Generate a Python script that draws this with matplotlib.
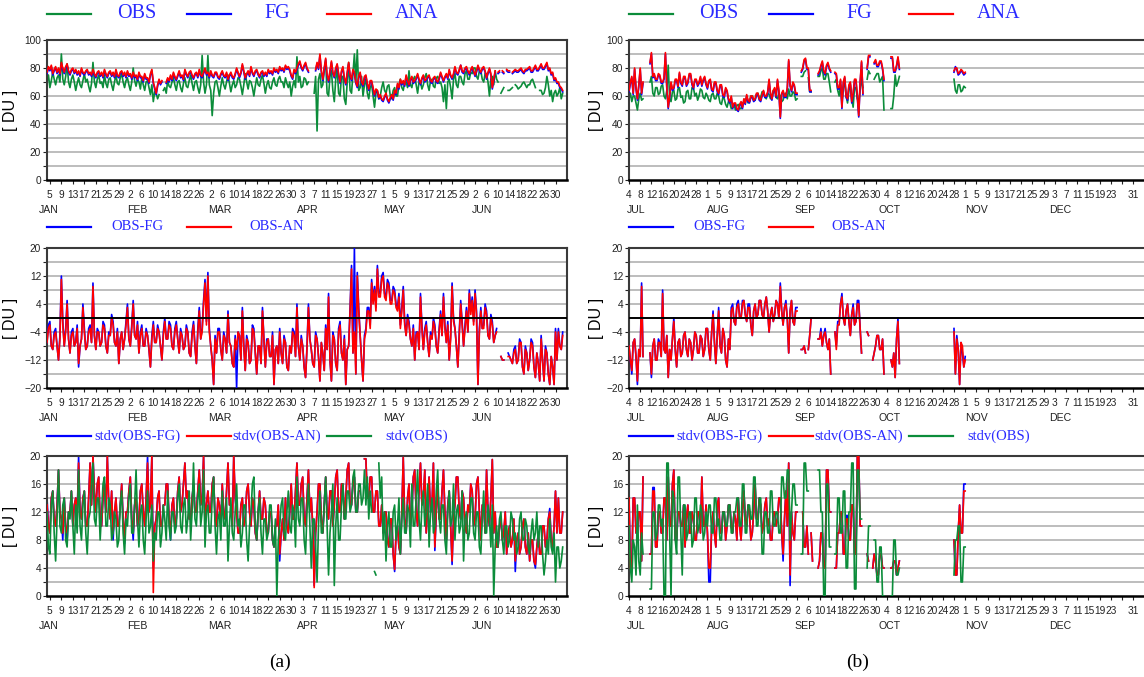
import datetime
import numpy as np
import matplotlib
matplotlib.use("Agg")
import matplotlib.pyplot as plt
from matplotlib.lines import Line2D
from matplotlib.ticker import FixedLocator
from matplotlib.transforms import blended_transform_factory

nan = np.nan

# ---------------- (a)  two values per day, Jan 4 .. Jul 2 ----------------
ana_a = [
    77, 81, 79, 82, 76, 79, 81, 77, 80, 76, 84, 80, 77, 81, 83, 78, 76, 79, 80, 77, 79, 76, 78, 75, 80, 77, 76, 78, 79, 76, 77, 75, 79, 76, 74, 77, 78, 75, 77, 74, 79, 76, 74, 77, 78, 75, 77, 74, 79, 75, 74, 77, 78, 75, 77, 74,
    78, 75, 76, 73, 77, 74, 75, 72, 77, 74, 74, 71, 76, 73, 73, 70, 76, 79, 70, 66, 62, 68, 72, 69, 71, nan, nan, 70, 73, 71, 75, 72, 77, 74, 72, 75, 78, 74, 75, 72, 79, 76, 74, 77, 78, 75, 73, 76, 77, 74, 79, 75, 74, 77, 80, 76,
    77, 74, 78, 75, 74, 77, 77, 74, 73, 76, 78, 75, 74, 77, 72, 75, 77, 74, 73, 76, 80, 77, 74, 77, 83, 78, 73, 76, 78, 75, 81, 77, 75, 78, 79, 76, 74, 77, 78, 75, 77, 75, 79, 77, 78, 76, 80, 78, 79, 77, 81, 79, 80, 78, 82, 80, 81, 79, 75, 73, 79, 77,
    80, 83, 85, 81, 79, 82, 84, 80, 78, nan, nan, nan, nan, 79, 84, 80, 90, 78, 72, 80, 87, 75, 71, 78, 85, 77, 74, 80, 83, 76, 70, 78, 81, 73, 69, 77, 84, 75, 72, 79, 77, 70, 67, 74, 77, 70, 68, 74, 75, 69, 65, 71, 71, 66, 61, 65, 64, 59, 61, 58,
    57, 60, 62, 58, 56, 59, 61, 58, 64, 62, 69, 66, 72, 69, 71, 68, 75, 71, 68, 72, 74, 70, 71, 73, 76, 72, 69, 73, 75, 71, 72, 74, 75, 71, 70, 73, 74, 71, 70, 73, 77, 74, 71, 74, 76, 73, 79, 75, 73, 76, 81, 77, 76, 79, 82, 78, 77, 80, 81, 78, 76, 79,
    81, 78, 75, 78, 82, 79, 77, 80, 81, 78, 73, 77, 80, 76, 66, 72, 78, nan, 77, 78, nan, 78, 77, nan, 79, 78, 78, nan, 77, 78, 79, 78, 78, 79, 80, 78, 77, 79, 79, 80, 81, 78, 78, 80, 82, 79, 79, 81, 83, 80, 80, 82, 84, 79, 80, 76, 77, 72, 73, 70,
    70, 67, 66, 64]
fg_a = [
    76, 80, 78, 81, 75, 78, 80, 76, 79, 75, 83, 79, 76, 80, 82, 77, 75, 78, 79, 76, 78, 75, 77, 74, 79, 76, 75, 77, 78, 75, 76, 74, 78, 75, 73, 76, 77, 74, 76, 73, 78, 75, 73, 76, 77, 74, 76, 73, 78, 74, 73, 76, 77, 74, 76, 73,
    77, 74, 75, 72, 76, 73, 74, 71, 76, 73, 73, 70, 75, 72, 72, 69, 75, 78, 69, 65, 61, 67, 71, 68, 70, nan, nan, 69, 72, 70, 74, 71, 76, 73, 71, 74, 77, 73, 74, 71, 78, 75, 73, 76, 77, 74, 72, 75, 76, 73, 78, 74, 73, 76, 79, 75,
    76, 73, 77, 74, 73, 76, 76, 73, 72, 75, 77, 74, 73, 76, 71, 74, 76, 73, 72, 75, 79, 76, 73, 76, 82, 77, 72, 75, 77, 74, 80, 76, 74, 77, 78, 75, 73, 76, 77, 74, 76, 74, 78, 76, 77, 75, 79, 77, 78, 76, 80, 78, 79, 77, 81, 79, 80, 78, 74, 72, 78, 76,
    79, 82, 84, 80, 78, 81, 83, 79, 77, nan, nan, nan, nan, 78, 83, 79, 89, 77, 71, 79, 86, 74, 70, 77, 84, 76, 73, 79, 82, 75, 69, 77, 80, 72, 68, 76, 83, 74, 71, 78, 76, 69, 66, 73, 76, 69, 67, 73, 74, 68, 64, 70, 70, 65, 60, 64, 63, 58, 60, 57,
    56, 59, 61, 57, 55, 58, 60, 57, 63, 61, 68, 65, 71, 68, 70, 67, 74, 70, 67, 71, 73, 69, 70, 72, 75, 71, 68, 72, 74, 70, 71, 73, 74, 70, 69, 72, 73, 70, 69, 72, 76, 73, 70, 73, 75, 72, 78, 74, 72, 75, 80, 76, 75, 78, 82, 77, 76, 79, 80, 77, 75, 78,
    80, 77, 74, 77, 81, 78, 76, 79, 80, 77, 72, 76, 79, 75, 65, 71, 77, nan, 76, 77, nan, 77, 76, nan, 78, 77, 77, nan, 76, 77, 78, 77, 77, 78, 79, 77, 76, 78, 78, 79, 80, 77, 77, 79, 81, 78, 78, 80, 82, 79, 79, 81, 83, 78, 79, 75, 76, 71, 72, 69,
    69, 66, 65, 63]
obs_a = [
    70, 75, 66, 71, 77, 72, 68, 73, 75, 70, 90, 72, 68, 74, 83, 70, 66, 72, 75, 70, 64, 69, 73, 68, 66, 71, 76, 70, 72, 67, 63, 69, 84, 70, 66, 72, 75, 69, 70, 66, 75, 69, 66, 72, 73, 68, 64, 70, 75, 69, 68, 73, 76, 70, 66, 71,
    73, 68, 64, 70, 80, 71, 67, 72, 70, 65, 73, 68, 64, 70, 71, 66, 61, 68, 56, 63, 62, 58, 61, nan, nan, 64, 66, 62, 71, 67, 66, 70, 73, 68, 64, 70, 71, 66, 63, 69, 73, 67, 66, 71, 75, 69, 64, 70, 71, 66, 62, 68, 89, 70, 62, 68,
    89, 68, 64, 46, 62, 70, 71, 66, 60, 67, 73, 68, 65, 70, 75, 69, 63, 68, 71, 66, 68, 73, 72, 67, 61, 68, 76, 70, 65, 71, 70, 66, 60, 67, 73, 68, 67, 72, 75, 69, 62, 68, 71, 66, 65, 70, 73, 68, 67, 72, 74, 70, 70, 66, 73, 69, 66, 70, 60, 67, 71, 66,
    88, 70, 74, 66, 67, 73, 72, 68, 70, nan, nan, nan, 62, 74, 35, 72, 76, 66, 68, 79, 84, 62, 60, 74, 78, 64, 56, 72, 80, 62, 60, 74, 74, 58, 54, 70, 84, 64, 62, 76, 90, 70, 93, 64, 66, 74, 60, 68, 72, 62, 58, 66, 68, 60, 52, 62, 64, 58, 60, 66,
    70, 64, 62, 67, 68, 60, 58, 64, 66, 60, 60, 68, 72, 66, 64, 70, 70, 66, 78, 68, 66, 72, 74, 68, 62, 70, 70, 65, 68, 73, 76, 68, 64, 71, 72, 67, 66, 73, 74, 69, 70, 66, 56, 68, 51, 70, 72, 66, 58, 72, 76, 68, 66, 74, 74, 70, 68, 76, 78, 72, 72, 77,
    76, 80, 80, 74, 72, 78, 78, 72, 70, 76, 76, 70, 60, 72, 74, 68, 78, 72, 70, nan, 62, 64, 66, nan, nan, 64, 64, 65, 66, nan, 68, 67, 65, 66, 67, 69, 70, 68, 66, 68, 68, 71, 72, 69, 66, nan, nan, 64, 64, 61, 62, 66, 74, 68, 60, 64, 56, 62, 64, 60,
    62, 66, 58, 62]

omb_a = [
    -7, -2, -1, -8, -9, -4, -3, -8, -12, -5, 12, -1, -8, -3, 5, -6, -10, -4, -3, -8, -7, -2, -14, -8, -6, 4, -3, -9, -8, -3, -2, -7, 10, -5, -9, -3, -4, -8, -7, -1, -2, -8, -10, -4, -5, 1, -1, -7, -8, -3, -13, -6, -4, -9, -6, -1,
    4, -6, -8, -2, 5, -5, -6, -1, -10, -4, -2, -8, -8, -3, -5, -9, -14, -5, -1, -7, -7, -2, -4, -8, -12, -4, 0, -6, -6, -1, -2, -8, -9, -3, -1, -6, -10, -3, -5, -9, -8, -2, -4, -10, -11, -4, -1, -8, -13, -3, 3, -6, -3, 5, 11, -1,
    13, -3, -8, -12, -19, -5, -10, -3, -3, -9, -12, -4, -6, -10, 2, -7, -8, -13, -14, -5, -20, -4, -5, -12, 3, -8, -15, -5, -7, -13, -12, -2, -3, -10, -16, -8, -8, -13, 3, -6, -14, -6, -6, -11, -11, -4, -19, -9, -8, -13, -3, -10, -13, -5, -7, -14, -15, -8, -10, -3, -4, -11,
    4, -8, -12, -5, -8, -14, -17, -8, 4, -6, -9, -13, -14, -4, -6, -11, -18, -7, -10, -15, -2, -9, 7, -12, -18, -4, -6, -13, -15, -3, -1, -10, -12, -5, -19, -9, -8, 3, 15, -10, 20, -16, 13, 3, -5, -12, -18, -5, -3, 3, 3, -2, 11, 5, 9, 3, 15, 7, 7, 12,
    13, 7, 6, 11, 10, 5, 5, 9, 8, 4, 3, 7, -2, 3, 9, -1, -5, 1, -1, -6, -8, -2, -12, -4, -4, -9, 7, -2, -9, -3, -1, -7, -11, -4, -6, 0, -2, -8, -10, -3, 2, -5, 7, -2, -7, -1, -12, -5, 10, 0, -3, -8, -14, -4, 5, -1, -8, -2, 3, -4, 8, 2,
    6, -1, 8, 2, -19, -3, 3, -3, -2, 4, 2, -5, -6, 1, -1, -7, -5, -3, nan, nan, -11, -12, -12, nan, nan, -10, -11, -12, -13, -9, -8, -13, -12, -6, -7, -14, -16, -8, -10, -15, -12, -6, -7, -14, -17, -10, -13, -18, -5, -12, -18, -8, -10, -16, -19, -11, -14, -19, -3, -12,
    -3, -8, -9, -4]
oma_a = [
    -7, -3, -2, -8, -9, -5, -4, -8, -12, -6, 11, -2, -8, -4, 4, -6, -10, -5, -4, -8, -7, -3, -13, -8, -6, 3, -4, -9, -8, -4, -3, -7, 9, -5, -9, -4, -4, -8, -7, -2, -3, -8, -10, -5, -5, 0, -2, -7, -8, -4, -13, -6, -4, -9, -6, -2,
    3, -6, -8, -3, 4, -5, -6, -2, -10, -5, -3, -8, -8, -4, -5, -9, -14, -6, -2, -7, -7, -3, -4, -8, -12, -5, -1, -6, -6, -2, -3, -8, -9, -4, -2, -6, -10, -4, -5, -9, -8, -3, -4, -10, -11, -5, -2, -8, -13, -4, 2, -6, -4, 4, 10, -2,
    12, -4, -8, -12, -19, -6, -10, -4, -4, -9, -12, -5, -6, -10, 1, -7, -8, -13, -14, -6, -9, -4, -5, -12, 2, -8, -15, -6, -7, -13, -12, -3, -4, -10, -16, -8, -8, -13, 2, -6, -14, -7, -6, -11, -11, -5, -19, -9, -8, -13, -4, -10, -13, -6, -7, -14, -15, -8, -10, -4, -5, -11,
    3, -8, -12, -6, -8, -14, -17, -9, 3, -6, -9, -13, -14, -5, -6, -11, -18, -7, -10, -15, -3, -9, 6, -12, -18, -5, -6, -13, -15, -4, -2, -10, -12, -6, -19, -9, -8, 2, 14, -10, -4, -16, 12, 2, -5, -12, -18, -6, -4, 2, 2, -3, 10, 4, 8, 2, 14, 6, 6, 11,
    12, 6, 5, 10, 9, 4, 4, 8, 7, 3, 2, 6, -3, 2, 8, -2, -5, 0, -2, -6, -8, -3, -12, -5, -4, -9, 6, -3, -9, -4, -2, -7, -11, -5, -6, -1, -3, -8, -10, -4, 1, -5, 6, -3, -7, -2, -12, -6, 9, -1, -3, -8, -14, -5, 4, -2, -8, -3, 2, -4, 7, 1,
    5, -2, 7, 1, -19, -4, 2, -3, -3, 3, 1, -5, -6, 0, -2, -7, -5, -4, nan, nan, -11, -12, -12, nan, nan, -11, -11, -12, -13, -10, -9, -13, -12, -7, -7, -14, -16, -9, -10, -15, -12, -7, -8, -14, -17, -10, -13, -18, -6, -12, -18, -9, -10, -16, -19, -11, -14, -19, -4, -12,
    -4, -8, -9, -5]

sfg_a = [
    14, 10, 9, 14, 15, 11, 10, 13, 18, 12, 11, 8, 14, 10, 8, 12, 12, 15, 10, 13, 14, 11, 20, 12, 11, 14, 15, 10, 10, 14, 19, 13, 20, 15, 12, 16, 17, 11, 10, 14, 16, 12, 20, 13, 11, 15, 8, 12, 14, 10, 10, 13, 16, 11, 7.5, 12,
    12, 15, 17, 11, 8, 13, 14, 10, 11, 15, 16, 12, 10, 14, 20, 12, 13, 20, 4, 10, 11, 14, 15, 10, 10, 13, 13, 16, 16, 11, 8, 13, 14, 10, 11, 15, 17, 12, 13, 16, 19, 14, 15, 11, 11, 14, 16, 12, 12, 15, 18, 13, 14, 20, 10, 13,
    15, 12, 12, 16, 17, 11, 10, 14, 13, 10, 16, 12, 11, 15, 19, 13, 13, 10, 20, 14, 12, 9, 9, 13, 14, 10, 11, 15, 16, 12, 10, 14, 13, 9, 8, 12, 15, 11, 11, 14, 13, 9, 9, 12, 12, 8, 7, 10, 10, 13, 5, 9, 11, 8, 14, 10, 9, 12, 16, 11, 11, 15,
    19, 13, 13, 16, 17, 11, 10, 14, 18, 12, 14, 10, 1.5, 9, 12, 16, 16, 11, 9, 13, 17, 12, 11, 15, 15, 10, 13, 17, 18, 12, 12, 16, 16, 11, 14, 18, 19, 13, 13, 16, 17, 12, 12, 15, 15, nan, nan, 19.6, 19.6, 14, 14, 17, 17, 12, 12, 15, 15, 10, 10, 13,
    9, 12, 12, 8, 7, 11, 11, 6, 3.5, 9, 10, 7, 6, 12, 19.8, 11, 9, 14, 16, 10, 12, 17, 18, 12, 10, 15, 19, 13, 14, 18, 9, 13, 17, 12, 13, 19, 6.5, 12, 16, 11, 11, 15, 18, 12, 8, 13, 15, 10, 4.5, 11, 13, 17, 17, 12, 11, 15, 14, 10, 9, 13, 12, 16,
    15, 10, 11, 16, 17, 12, 8, 13, 13, 9, 18, 12, 10, 14, 19.5, 9, 12, 7, 7, 10, 11, 8, 9, 12, 6, 9, 10, 7, 8, 11, 3.5, 8, 9, 6, 7, 10, 11, 7, 6, 9, 5, 8, 8, 5, 4, 7, 9, 6, 6, 10, 10, 7, 8, 11, 12.5, 8, 7, 10, 15, 9,
    14, 9, 9, 12]
san_a = [
    13, 10, 9, 14, 15, 11, 10, 13, 18, 12, 11, 9, 14, 10, 9, 12, 12, 15, 10, 13, 14, 11, 19, 12, 11, 14, 15, 10, 10, 14, 19, 13, 20, 15, 12, 16, 17, 11, 10, 14, 16, 12, 20, 13, 11, 15, 9, 12, 14, 10, 10, 13, 16, 11, 8, 12,
    12, 15, 17, 11, 9, 13, 14, 10, 11, 15, 16, 12, 10, 14, 19, 12, 13, 20, 0.5, 10, 11, 14, 15, 10, 10, 13, 13, 16, 16, 11, 9, 13, 14, 10, 11, 15, 17, 12, 13, 16, 19, 14, 15, 11, 11, 14, 16, 12, 12, 15, 18, 13, 14, 20, 10, 13,
    15, 12, 12, 16, 17, 11, 10, 14, 13, 10, 16, 12, 11, 15, 19, 13, 13, 10, 20, 14, 12, 9, 9, 13, 14, 10, 11, 15, 16, 12, 10, 14, 13, 9, 8, 12, 15, 11, 11, 14, 13, 9, 9, 12, 12, 8, 7, 10, 10, 13, 6, 9, 11, 8, 14, 10, 9, 12, 16, 11, 11, 15,
    19, 13, 13, 16, 17, 11, 10, 14, 18, 12, 14, 10, 1.2, 9, 12, 16, 16, 11, 9, 13, 17, 12, 11, 15, 15, 10, 13, 17, 18, 12, 12, 16, 16, 11, 14, 18, 19, 13, 13, 16, 17, 12, 12, 15, 15, nan, nan, 19.6, 19.6, 14, 14, 17, 17, 12, 12, 15, 15, 10, 10, 13,
    9, 12, 12, 8, 7, 11, 11, 6, 3.8, 9, 10, 7, 6, 12, 19.8, 11, 9, 14, 16, 10, 12, 17, 18, 12, 10, 15, 19, 13, 14, 18, 9, 13, 17, 12, 13, 19, 7, 12, 16, 11, 11, 15, 18, 12, 8, 13, 15, 10, 5, 11, 13, 17, 17, 12, 11, 15, 14, 10, 9, 13, 12, 16,
    15, 10, 11, 16, 17, 12, 8, 13, 13, 9, 18, 12, 10, 14, 19.5, 9, 12, 7, 7, 10, 11, 8, 9, 12, 6, 9, 10, 7, 8, 11, 5, 8, 9, 6, 7, 10, 11, 7, 6, 9, 5, 8, 8, 5, 4.5, 7, 9, 6, 6, 10, 10, 7, 8, 11, 12, 8, 7, 10, 15, 9,
    14, 9, 9, 12]
sobs_a = [
    12, 7, 6, 13, 15, 9, 5, 11, 18, 10, 9, 13, 14, 8, 7, 12, 11, 15, 10, 6, 13, 9, 18, 10, 8, 13, 15, 9, 6, 11, 12, 16, 19, 11, 10, 14, 14, 8, 12, 16, 17, 10, 10, 14, 13, 8, 9, 12, 11, 7, 8, 13, 15, 9, 6, 11,
    10, 14, 16, 9, 9, 13, 18, 11, 7, 12, 13, 8, 6, 11, 15, 9, 10, 13, 5, 9, 8, 12, 12, 7, 9, 13, 11, 8, 15, 10, 8, 12, 12, 9, 10, 14, 16, 10, 9, 13, 14, 9, 11, 15, 8, 12, 19, 11, 10, 14, 16, 10, 12, 18, 7, 12,
    13, 9, 9, 14, 17, 10, 6, 11, 12, 8, 15, 10, 10, 14, 5, 10, 14, 9, 8, 12, 16, 10, 11, 7, 9, 13, 13, 8, 5, 10, 12, 16, 17, 10, 8, 12, 14, 9, 6, 11, 11, 8, 9, 13, 13, 8, 7, 11, 0, 8, 10, 13, 14, 9, 8, 12, 15, 10, 9, 13, 12, 7,
    17, 11, 10, 14, 14, 8, 6, 12, 16, 10, 4, 11, 11, 7, 2, 10, 15, 9, 9, 13, 17, 10, 3, 9, 12, 16, 1.5, 10, 14, 8, 8, 13, 16, 11, 11, 15, 15, 12, 13, 17, 18, 12, 12, 16, 16, 13, 14, 18, 13, 17, 11, 15, 12, nan, 3.5, 3, nan, 19, 14, 17,
    8, 12, 5, 10, 12, 7, 7, 12, 13, 8, 10, 14, 6, 11, 14, 9, 9, 13, 12, 7, 16, 10, 10, 14, 18, 11, 8, 13, 15, 10, 12, 16, 7, 12, 14, 9, 10, 15, 18, 11, 9, 13, 13, 8, 6, 12, 15, 10, 11, 16, 8, 12, 13, 9, 10, 15, 5, 11, 12, 8, 9, 14,
    14, 9, 8, 12, 12, 7, 6, 11, 15, 9, 9, 13, 11, 7, 13, 0, 7, 10, 7, 11, 12, 8, 6, 10, 10, 7, 8, 12, 11, 8, 9, 6, 7, 11, 12, 8, 8, 11, 10, 7, 6, 9, 11, 8, 9, 12, 7, 10, 10, 6, 3, 5, 8, 6, 11, 7, 6, 9, 2, 7,
    7, 4, 5, 7]

# ---------------- (b)  two values per day, Jul 4 .. Nov 1 ----------------
gap = [nan] * 38   # Oct 9 .. Oct 27, no data

ana_b = ([64, 70, 74, 62, 80, 66, 58, 68, 80, 62, 70, nan, nan, nan, nan, 84, 91, 74, 76, 72, 72, 76, 75, 70, 70, 73, 91, 66, 52, 60, 70, 65, 66, 72, 72, 67, 77, 70, 68, 74, 74, 68, 70, 76, 76, 69, 66, 72, 72, 68, 70, 74, 68, 72, 74, 69]
         + [66, 71, 72, 65, 64, 70, 70, 64, 62, 68, 68, 61, 60, 66, 64, 58, 56, 60, 52, 55, 55, 51, 50, 54, 56, 52, 58, 55, 61, 57, 56, 60, 60, 57, 58, 62, 62, 58, 57, 61, 64, 60, 60, 63, 72, 62, 58, 64, 66, 60, 72, 64, 45, 62, 64, 60, 60, 66, 86, 68, 64, 70]
         + [68, 62, 62, nan, nan, 78, 80, 86, 87, 80, 80, 64, 64, nan, nan, nan, nan, 76, 78, 82, 85, 78, 76, 82, 84, 80, 78, nan, nan, 77, 76, 66, 66, 72, 52, 70, 74, 60, 58, 68, 70, 56, 62, 72, 72, 60, 46, 70, 85, 62, nan, nan, 80, 89, 89, nan, nan, 84, 86, 82]
         + [82, 85, 85, 80, 72, nan, nan, nan, nan, 88, 88, 78, 78, 82, 88, 80] + gap + [78, 80, 80, 76, 77, 79, 78, 76]
         + [77, nan])
fg_b = ([63, 69, 73, 61, 79, 65, 57, 67, 79, 61, 69, nan, nan, nan, nan, 83, 90, 73, 75, 71, 71, 75, 74, 69, 69, 72, 90, 65, 51, 59, 69, 64, 65, 71, 71, 66, 76, 69, 67, 73, 73, 67, 69, 75, 75, 68, 65, 71, 71, 67, 69, 73, 67, 71, 73, 68]
        + [65, 70, 71, 64, 63, 69, 69, 63, 61, 67, 67, 60, 59, 65, 63, 57, 55, 59, 51, 54, 54, 50, 49, 53, 55, 51, 57, 54, 60, 56, 55, 59, 59, 56, 57, 61, 61, 57, 56, 60, 63, 59, 59, 62, 71, 61, 57, 63, 65, 59, 71, 63, 44, 61, 63, 59, 59, 65, 85, 67, 63, 69]
        + [67, 61, 61, nan, nan, 77, 79, 85, 86, 79, 79, 63, 63, nan, nan, nan, nan, 75, 77, 81, 84, 77, 75, 81, 83, 79, 77, nan, nan, 76, 75, 65, 65, 71, 51, 69, 73, 59, 57, 67, 69, 55, 61, 71, 71, 59, 45, 69, 84, 61, nan, nan, 79, 88, 88, nan, nan, 83, 85, 81]
        + [81, 84, 84, 79, 71, nan, nan, nan, nan, 87, 87, 77, 77, 81, 87, 79] + gap + [77, 81, 79, 75, 76, 78, 77, 75]
        + [76, nan])
obs_b = ([58, 62, 56, 60, 60, 55, 50, 58, 62, 57, 58, nan, nan, nan, nan, 70, 74, 62, 60, 66, 66, 61, 62, 67, 68, 60, 58, 64, 82, 58, 56, 63, 64, 57, 58, 65, 66, 59, 60, 55, 56, 63, 64, 58, 58, 66, 66, 60, 62, 57, 60, 65, 64, 59, 58, 62]
         + [60, 57, 56, 61, 62, 58, 58, 62, 60, 55, 54, 59, 58, 54, 52, 56, 55, 51, 52, 54, 50, 53, 54, 51, 51, 55, 55, 58, 58, 55, 56, 60, 60, 57, 57, 61, 62, 58, 59, 63, 63, 59, 58, 62, 61, 58, 60, 64, 64, 59, 58, 62, 60, 56, 57, 61, 62, 58, 65, 60, 60, 63]
         + [62, 57, 58, nan, nan, 74, 74, 77, 78, nan, 73, 63, 63, nan, nan, nan, nan, 74, 74, 78, 80, 72, 72, 76, 76, 70, 63, nan, nan, 70, 72, 64, 60, 68, 56, 66, 70, 60, 55, 64, 68, 58, 52, 66, 66, 58, 56, 64, 72, 66, nan, nan, 72, 78, 76, nan, nan, 72, 74, 76]
         + [76, 70, 72, 74, 50, nan, nan, nan, nan, 51, 51, 60, 75, 67, 70, 74] + gap + [72, 64, 62, 68, 68, 63, 64, 67]
         + [66, nan])

omb_b = ([-8, -12, -16, -7, -6, -11, -19, -9, -11, 10, -11, nan, nan, nan, nan, -10, -17, -8, -6, -12, -12, -6, -7, -11, 8, -9, -10, -5, -17, -9, -12, -6, 0, -9, -14, -7, -6, -11, -10, -5, -4, -9, -11, -6, -7, -12, -9, -4, -5, -10, -10, -5, -6, -11, -9, -3]
         + [-3, -9, -12, -4, 2, -7, -13, -5, 3, -8, -10, -3, -5, -12, -14, -6, -9, 3, 4, -1, -2, 4, 5, 0, 0, 5, 5, 1, -1, 4, 4, -2, -5, 2, 4, 0, 1, 5, 5, 1, 0, 4, 6, 2, -4, 1, 3, -1, 1, 5, 4, 0, 10, 2, -2, 3, 5, 0, -10, 2, 5, -1]
         + [-2, 3, 3, nan, nan, -9, -9, -8, -10, nan, -9, -5, 0, nan, nan, nan, nan, -6, -6, -3, -8, -5, -3, -7, -9, -6, -16, nan, nan, -4, -8, -1, -1, 4, 7, 0, -2, 2, 4, -1, -5, 1, 4, -2, -1, 5, 5, -3, -10, nan, nan, nan, -4, -5, nan, nan, -12, -10, -8, -5]
         + [-5, -9, -9, -6, -16, nan, nan, nan, nan, -12, -14, -10, -17, -6, 0, -13] + gap + [-3, -16, -5, -9, -19, -7, -10, -14]
         + [-11, nan])
oma_b = ([-8, -12, -15, -7, -6, -11, -18, -9, -11, 9, -11, nan, nan, nan, nan, -10, -16, -8, -6, -12, -12, -7, -7, -11, 7, -9, -10, -5, -17, -9, -12, -6, -1, -9, -14, -7, -6, -11, -10, -5, -4, -9, -11, -6, -7, -12, -9, -4, -5, -10, -10, -5, -6, -11, -9, -3]
         + [-3, -9, -12, -4, 1, -7, -13, -5, 2, -8, -10, -3, -5, -12, -14, -6, -9, 2, 3, -1, -2, 3, 4, 0, 0, 4, 5, 1, -1, 3, 3, -2, -5, 2, 4, 0, 1, 5, 5, 1, 0, 4, 6, 2, -4, 1, 3, -1, 1, 5, 4, 0, 9, 2, -2, 3, 4, 0, -10, 2, 5, -1]
         + [-2, 2, 2, nan, nan, -9, -9, -8, -10, nan, -9, -5, 0, nan, nan, nan, nan, -6, -6, -4, -8, -5, -4, -7, -9, -6, -16, nan, nan, -4, -9, -2, -2, 4, 6, 0, -2, 2, 4, -1, -5, 1, 3, -2, -1, 4, 4, -3, -10, nan, nan, nan, -4, -5, nan, nan, -12, -10, -8, -5]
         + [-5, -9, -9, -6, -16, nan, nan, nan, nan, -12, -14, -10, -17, -6, -1, -13] + gap + [-4, -16, -6, -9, -19, -7, -8, -14]
         + [-12, nan])

sfg_b = ([14.5, 4, 4, 14, 14, 9, 9, 12, 12, 5, 17, nan, nan, nan, nan, 6, 6, 15.5, 15.5, 7, 7, 12, 12, 9, 9, 14, 14, 8, 17, 10, 10, 16, 18, 8, 8, 12, 12, 10, 10, 13, 7, 11, 13, 9, 9, 12, 11, 8, 8, 12, 12, 9, 17, 10, 10, 13]
         + [9, 2, 2, 10, 12, 9, 7, 13, 14, 9, 9, 12, 12, 8, 10, 13, 13, 10, 9, 12, 11, 8, 14, 10, 8, 12, 15, 11, 10, 13, 12, 8, 9, 12, 16, 11, 11, 14, 13, 9, 10, 13, 14, 10, 11, 8, 8, 12, 12, 10, 11, 14, 14, 9, 5, 11, 15, 10, 19, 1.5, 12, 9]
         + [8, 12, 12, nan, nan, nan, 12, 7, 7, 10, 6, nan, 9, 5, nan, nan, nan, 4, 5, 9, 9, 4, 4, 18, 18, 12, 12, nan, nan, 4, 4, 9, 9, 12, 12, 6, 6, 11.5, 11.5, 8, 8, 13, 13, 6, 6, 20, 20, 10, 10, nan, nan, nan, 6, 5, nan, nan, 4, 6, 5, 3]
         + [3, 6, 6, 4, 4, nan, nan, nan, nan, 4, 4, 5, 5, 3, 4, 5] + gap + [8, 3, 3, 9, 13, 9, 9, 16]
         + [16, nan])
san_b = ([14, 4, 4, 14, 14, 9, 9, 12, 12, 5, 17, nan, nan, nan, nan, 6, 6, 15, 15, 7, 7, 12, 12, 9, 9, 14, 14, 8, 17, 10, 10, 16, 18, 8, 8, 12, 12, 10, 10, 13, 7, 11, 13, 9, 9, 12, 11, 8, 8, 12, 12, 9, 17, 10, 10, 13]
         + [9, 4, 4, 10, 12, 9, 7, 13, 14, 9, 9, 12, 12, 8, 10, 13, 13, 10, 9, 12, 11, 8, 14, 10, 8, 12, 15, 11, 10, 13, 12, 8, 9, 12, 16, 11, 11, 14, 13, 9, 10, 13, 14, 10, 11, 8, 8, 12, 12, 10, 11, 14, 14, 9, 6, 11, 15, 10, 19, 3, 12, 9]
         + [8, 12, 12, nan, nan, nan, 12, 7, 7, 10, 6, nan, 9, 5, nan, nan, nan, 4, 5, 9, 9, 4, 4, 18, 18, 12, 12, nan, nan, 4, 4, 9, 9, 12, 12, 6, 6, 11, 11, 8, 8, 13, 13, 6, 6, 20, 20, 10, 10, nan, nan, nan, 6, 5, nan, nan, 4, 6, 5, 3]
         + [3, 6, 6, 4, 4, nan, nan, nan, nan, 4, 4, 5, 5, 3, 4, 5] + gap + [8, 3, 3, 9, 13, 9, 9, 15]
         + [15, nan])
sobs_b = ([10, 4, 2, 8, 7, 3, 13, 5, 3, 9, 6, nan, nan, nan, nan, 1, 1, 12, 12, 8, 9, 13, 13, 10, 11, 0, 0, 19, 19, 9, 0, 15, 14, 8, 6, 17, 17, 9, 3, 13, 13, 8, 9, 12, 12, 7, 8, 14, 14, 9, 10, 13, 12, 8, 9, 12]
          + [10, 13, 13, 9, 9, 14, 14, 10, 11, 8, 8, 12, 12, 10, 10, 13, 13, 9, 9, 12, 12, 14, 14, 10, 10, 16, 16, 9, 9, 13, 13, 11, 11, 17, 17, 10, 10, 14, 14, 6, 6, 12, 12, 9, 9, 15, 15, 10, 10, 12, 12, 9, 9, 17, 17, 14, 14, 18, 18, 8, 12, 16]
          + [16, 13, 13, nan, nan, 6, 6, 19, 19, 15, 15, nan, 6, nan, nan, nan, nan, 18, 18, 12, 12, 0, 0, 16, 16, 7, 7, nan, nan, 6, 6, 14, 14, 9, 9, 15, 15, 4, 4, 12, 12, 19, 19, 1, 1, 18, 18, 11, 11, nan, nan, nan, 4, 10, 10, nan, nan, 8, 8, 2]
          + [2, 7, 7, 0, 0, nan, nan, nan, nan, 0, 0, 8, 8, 3, 3, 4] + gap + [3, 8, 8, 10, 10, 2, 2, 7]
          + [7, nan])

START = {"a": 4, "b": 185}          # day of year of the first value
STEP = 0.5                          # days between values
XLIM = {"a": (4, 185), "b": (185, 370.6)}
TICKS = {"a": list(range(5, 182, 4)), "b": list(range(185, 366, 4))}
MONTHS = {"a": [(1, "JAN"), (32, "FEB"), (60, "MAR"), (91, "APR"), (121, "MAY"), (152, "JUN")],
          "b": [(184.4, "JUL"), (213, "AUG"), (244, "SEP"), (274, "OCT"), (305, "NOV"), (335, "DEC")]}

GREEN, BLUE, RED = "#0b8c3a", "#0000ff", "#ff0000"
LEG_TXT = "#2a2aff"

plt.rcParams["font.family"] = ["Liberation Sans", "DejaVu Sans"]

W, H = 1144, 677
fig = plt.figure(figsize=(W / 100, H / 100), dpi=100)


def box(x0, y0, w, h):
    return [x0 / W, 1 - (y0 + h) / H, w / W, h / H]


def day_label(doy):
    d = datetime.date(2007, 1, 1) + datetime.timedelta(days=doy - 1)
    return str(d.day)


def setup(ax, side, ylim, majors, grid, zero=False):
    ax.set_xlim(*XLIM[side])
    ax.set_ylim(*ylim)
    for g in grid:
        ax.axhline(g, color="#b7b7b7", lw=1.3, zorder=0)
    if zero:
        ax.axhline(0, color="black", lw=1.4, zorder=5)
    ax.yaxis.set_major_locator(FixedLocator(majors))
    ax.yaxis.set_minor_locator(FixedLocator(grid))
    ticks = TICKS[side]
    ax.set_xticks(ticks)
    labels = [day_label(t) for t in ticks]
    if side == "b":
        labels[-2] = ""
    ax.set_xticklabels(labels)
    ax.tick_params(axis="both", which="both", direction="out", length=3,
                   width=0.8, labelsize=7.3, colors="#222222")
    ax.tick_params(axis="x", pad=4.5)
    ax.tick_params(axis="y", pad=1.2)
    for s in ("top", "left", "right"):
        ax.spines[s].set_color("#3a3a3a")
        ax.spines[s].set_linewidth(1.5)
    ax.spines["bottom"].set_color("black")
    ax.spines["bottom"].set_linewidth(1.8)
    trans = blended_transform_factory(ax.transData, ax.transAxes)
    for x, name in MONTHS[side]:
        ax.text(x, -0.215, name, transform=trans, ha="left", va="center",
                fontsize=7.6, color="#222222", clip_on=False)
    ax.set_ylabel("[ DU ]", fontsize=11.5)
    ax.yaxis.set_label_coords(-29 / 520 if side == "a" else -25 / 520, 0.5)


def legend(x0, y, items, size):
    for i, (text, color) in enumerate(items):
        lx = x0 + 140 * i
        fig.add_artist(Line2D([lx / W, (lx + 44) / W], [1 - y / H, 1 - y / H],
                              color=color, lw=1.6))
        fig.text((lx + 90) / W, 1 - y / H, text, ha="center", va="center",
                 fontsize=size, color=LEG_TXT, family="Liberation Serif")


def xs(side, values):
    return START[side] + STEP * np.arange(len(values))


series = {
    "a": dict(obs=obs_a, fg=fg_a, ana=ana_a, omb=omb_a, oma=oma_a, sfg=sfg_a, san=san_a, sobs=sobs_a),
    "b": dict(obs=obs_b, fg=fg_b, ana=ana_b, omb=omb_b, oma=oma_b, sfg=sfg_b, san=san_b, sobs=sobs_b),
}

LW = 1.2
for side, x0 in (("a", 47), ("b", 629)):
    d = series[side]

    ax1 = fig.add_axes(box(x0, 40, 520, 140))
    setup(ax1, side, (0, 100), range(0, 101, 20), range(10, 100, 10))
    ax1.plot(xs(side, d["obs"]), d["obs"], color=GREEN, lw=LW, zorder=2)
    ax1.plot(xs(side, d["fg"]), d["fg"], color=BLUE, lw=LW, zorder=3)
    ax1.plot(xs(side, d["ana"]), d["ana"], color=RED, lw=LW, zorder=4)
    legend(x0, 14, [("OBS", GREEN), ("FG", BLUE), ("ANA", RED)], 14.5)

    ax2 = fig.add_axes(box(x0, 248, 520, 140))
    setup(ax2, side, (-20, 20), [-20, -12, -4, 4, 12, 20],
          [-16, -12, -8, -4, 4, 8, 12, 16], zero=True)
    ax2.plot(xs(side, d["omb"]), d["omb"], color=BLUE, lw=LW, zorder=3)
    ax2.plot(xs(side, d["oma"]), d["oma"], color=RED, lw=LW, zorder=4)
    legend(x0, 227, [("OBS-FG", BLUE), ("OBS-AN", RED)], 10.5)

    ax3 = fig.add_axes(box(x0, 456, 520, 140))
    setup(ax3, side, (0, 20), range(0, 21, 4), range(2, 20, 2))
    ax3.plot(xs(side, d["sfg"]), d["sfg"], color=BLUE, lw=LW, zorder=2)
    ax3.plot(xs(side, d["san"]), d["san"], color=RED, lw=LW, zorder=3)
    ax3.plot(xs(side, d["sobs"]), d["sobs"], color=GREEN, lw=LW, zorder=4)
    legend(x0, 436, [("stdv(OBS-FG)", BLUE), ("stdv(OBS-AN)", RED), ("stdv(OBS)", GREEN)], 10.5)

fig.text(280 / W, 1 - 662 / H, "(a)", ha="center", va="center", fontsize=14,
         family="Liberation Serif")
fig.text(858 / W, 1 - 662 / H, "(b)", ha="center", va="center", fontsize=14,
         family="Liberation Serif")

fig.savefig("out.png", dpi=100)
